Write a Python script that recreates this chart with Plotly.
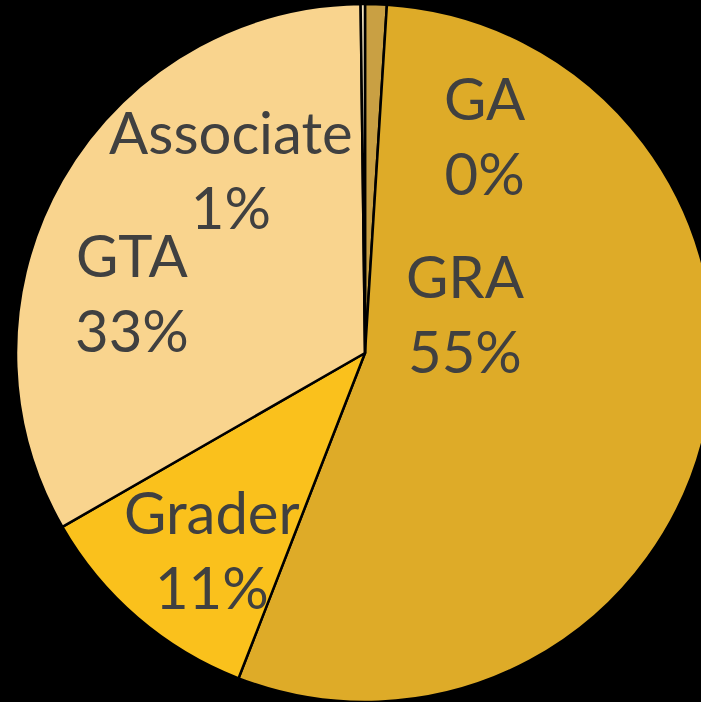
import plotly.graph_objects as go

labels = ["Associate", "GRA", "Grader", "GTA", "GA"]
values = [1.0, 54.9, 10.8, 33.1, 0.2]
colors = ["#C9A043", "#DEAB28", "#FAC11C", "#F9D48E", "#F3E3BC"]

# label anchor positions in pixels (x, y) for the annotations
label_px = {
    "Associate": (231, 169),
    "GRA": (465, 313),
    "Grader": (212, 549),
    "GTA": (132, 292),
    "GA": (485, 135),
}

W, H = 730, 702
total = sum(values)

fig = go.Figure(go.Pie(
    labels=labels,
    values=values,
    sort=False,
    direction="clockwise",
    rotation=0,
    textinfo="none",
    hoverinfo="label+percent",
    marker=dict(colors=colors, line=dict(color="#000000", width=2.5)),
    domain=dict(x=[16 / W, 714 / W], y=[0, 698 / H]),
    showlegend=False,
))

annotations = []
for lab, val in zip(labels, values):
    px, py = label_px[lab]
    annotations.append(dict(
        x=px / W, y=1 - py / H, xref="paper", yref="paper",
        xanchor="center", yanchor="middle", showarrow=False,
        text=f"{lab}<br>{round(val / total * 100)}%",
        font=dict(family="Lato, Open Sans, sans-serif", size=58, color="#404040"),
        align="center",
    ))

fig.update_layout(
    width=W, height=H,
    margin=dict(l=0, r=0, t=0, b=0),
    paper_bgcolor="#000000",
    plot_bgcolor="#000000",
    annotations=annotations,
)

fig.write_html(
    "out.html",
    config={"displayModeBar": False},
    post_script="document.body.style.margin='0';document.body.style.overflow='hidden';document.body.style.background='#000';",
)
